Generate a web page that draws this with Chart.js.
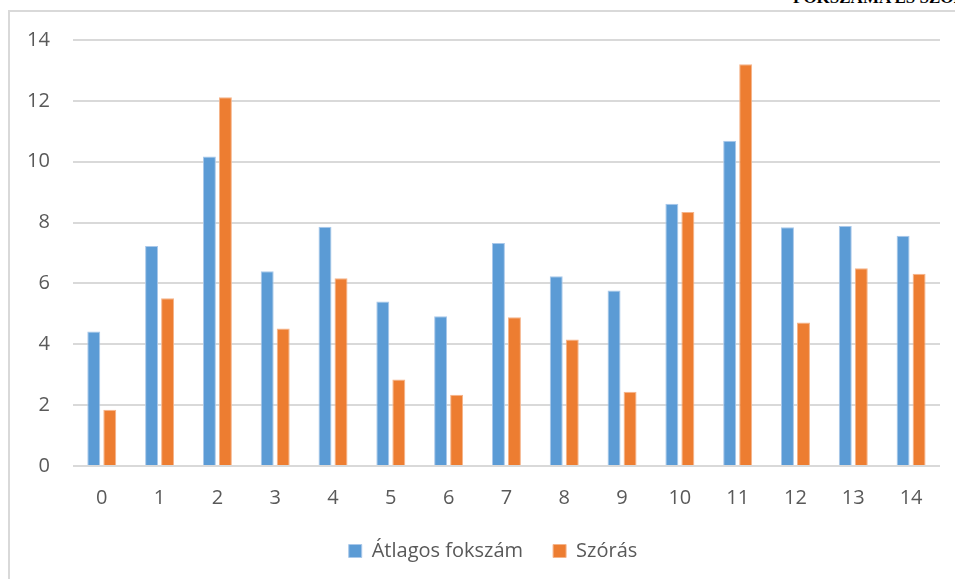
<!DOCTYPE html>
<html lang="hu">
<head>
<meta charset="utf-8">
<script src="https://cdn.jsdelivr.net/npm/chart.js@4/dist/chart.umd.min.js"></script>
<style>
  html, body { margin: 0; padding: 0; background: #ffffff; overflow: hidden; }
  #wrap { position: relative; width: 955px; height: 579px; }
  #frame { position: absolute; left: 8px; top: 10px; width: 1000px; height: 700px;
           border-left: 2px solid #d9d9d9; border-top: 2px solid #d9d9d9; box-sizing: border-box; }
  #head { position: absolute; left: 793px; top: -12px; font: bold 17px "Liberation Serif", serif;
          color: #000; white-space: nowrap; }
  #c { position: absolute; left: 0; top: 0; }
</style>
</head>
<body>
<div id="wrap">
  <div id="head">FOKSZÁMA ÉS SZÓRÁSA</div>
  <div id="frame"></div>
  <canvas id="c" width="955" height="579"></canvas>
</div>
<script>
const categories = ['0','1','2','3','4','5','6','7','8','9','10','11','12','13','14'];
const atlagosFokszam = [4.42, 7.23, 10.17, 6.40, 7.86, 5.41, 4.92, 7.33, 6.24, 5.77, 8.62, 10.69, 7.85, 7.89, 7.57];
const szoras = [1.85, 5.51, 12.12, 4.52, 6.17, 2.84, 2.34, 4.89, 4.16, 2.44, 8.35, 13.20, 4.72, 6.50, 6.32];
const yTicks = [0, 2, 4, 6, 8, 10, 12, 14];

const tickFont = { family: '"Open Sans", "Noto Sans", sans-serif', size: 20 };

// Nudge the legend block after layout so it sits under the plot a bit to the right.
const legendOffset = {
  id: 'legendOffset',
  afterLayout(chart) {
    const lg = chart.legend;
    if (!lg) return;
    const dx = 21, dy = -8;
    lg.left += dx; lg.right += dx;
    lg.top += dy; lg.bottom += dy;
  }
};

new Chart(document.getElementById('c'), {
  type: 'bar',
  data: {
    labels: categories,
    datasets: [
      { label: 'Átlagos fokszám', data: atlagosFokszam, backgroundColor: '#5b9bd5',
        borderColor: '#a9c8ea', borderWidth: 1, barPercentage: 0.81, categoryPercentage: 0.554 },
      { label: 'Szórás', data: szoras, backgroundColor: '#ed7d31',
        borderColor: '#f5b48a', borderWidth: 1, barPercentage: 0.81, categoryPercentage: 0.554 }
    ]
  },
  options: {
    responsive: false,
    animation: false,
    devicePixelRatio: 1,
    layout: { padding: { left: 4, right: 15, top: 40, bottom: 0 } },
    scales: {
      x: {
        grid: { display: false, drawTicks: false },
        border: { display: false },
        ticks: { color: '#595959', font: tickFont, padding: 20 },
        afterFit: (scale) => { scale.height -= 11; }
      },
      y: {
        min: 0, max: 14,
        afterBuildTicks: (axis) => { axis.ticks = yTicks.map(v => ({ value: v })); },
        grid: { color: '#d9d9d9', lineWidth: 2, drawTicks: false },
        border: { display: false },
        ticks: { color: '#595959', font: tickFont, padding: 23 }
      }
    },
    plugins: {
      legend: {
        position: 'bottom',
        labels: { color: '#595959', font: tickFont, boxWidth: 13, boxHeight: 13, padding: 30 }
      },
      tooltip: { enabled: false }
    }
  },
  plugins: [legendOffset]
});
</script>
</body>
</html>
